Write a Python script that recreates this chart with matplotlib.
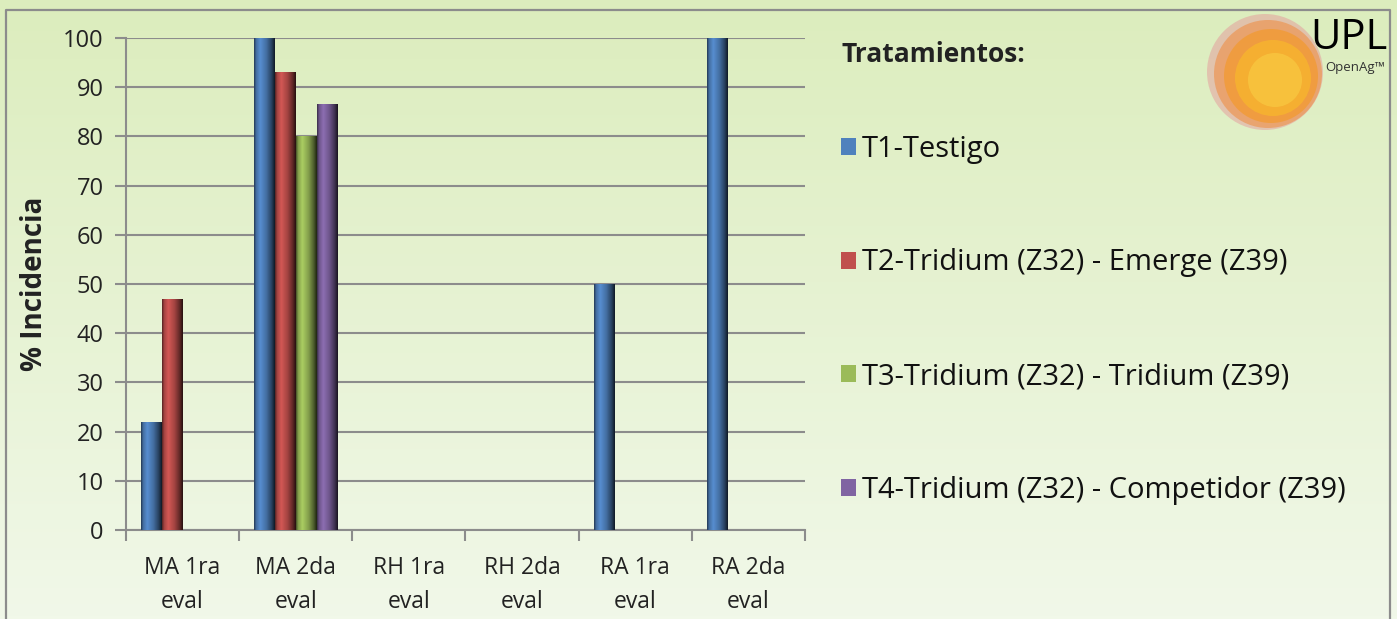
import numpy as np
import matplotlib.pyplot as plt
from matplotlib.colors import LinearSegmentedColormap, to_rgb
from matplotlib.patches import Circle

plt.rcParams['font.family'] = ['Open Sans', 'DejaVu Sans']

# data
categories = ['MA 1ra\neval', 'MA 2da\neval', 'RH 1ra\neval', 'RH 2da\neval', 'RA 1ra\neval', 'RA 2da\neval']
series = ['T1-Testigo', 'T2-Tridium (Z32) - Emerge (Z39)',
          'T3-Tridium (Z32) - Tridium (Z39)', 'T4-Tridium (Z32) - Competidor (Z39)']
t1 = [22, 100, 0, 0, 50, 100]
t2 = [47, 93, 0, 0, 0, 0]
t3 = [0, 80, 0, 0, 0, 0]
t4 = [0, 86.5, 0, 0, 0, 0]
colors = ['#4f81bd', '#c0504d', '#9bbb59', '#8064a2']

fig = plt.figure(figsize=(13.97, 6.19), dpi=100)

# background gradient + frame
bg = fig.add_axes([0, 0, 1, 1], zorder=-10)
top = np.array(to_rgb('#dcedbd'))
bot = np.array(to_rgb('#f1f8e9'))
t = np.linspace(0, 1, 200)[:, None, None]
grad = top * (1 - t) + bot * t
bg.imshow(grad, extent=[0, 1, 0, 1], aspect='auto', origin='upper')
bg.plot([6 / 1397, 6 / 1397, 1390 / 1397, 1390 / 1397], [0, 1 - 10 / 619, 1 - 10 / 619, 0],
        color='#8c8c8c', lw=1.6)
bg.set_xlim(0, 1)
bg.set_ylim(0, 1)
bg.axis('off')

ax = fig.add_axes([126 / 1397, 89 / 619, 679 / 1397, 492 / 619])
ax.patch.set_alpha(0)

x = np.arange(len(categories))
w = 0.184
values = [t1, t2, t3, t4]


def shade_cmap(c):
    c = np.array(to_rgb(c))
    return LinearSegmentedColormap.from_list('s', [(0, c * 0.45), (0.1, c * 0.85), (0.3, np.clip(c * 1.1, 0, 1)),
                                                    (0.6, c * 0.85), (0.85, c * 0.5), (1, c * 0.2)])


hgrad = np.linspace(0, 1, 100)[None, :]
for i, (vals, col) in enumerate(zip(values, colors)):
    bars = ax.bar(x + (i - 1.5) * w, vals, w, color=col, label=series[i], zorder=3)
    cm = shade_cmap(col)
    for b in bars:
        if b.get_height() <= 0:
            continue
        im = ax.imshow(hgrad, cmap=cm, aspect='auto', zorder=4,
                       extent=[b.get_x(), b.get_x() + b.get_width(), 0, b.get_height()])
        im.set_clip_path(b)

ax.set_xlim(-0.5, 5.5)
ax.set_ylim(0, 100)
ax.set_yticks(range(0, 101, 10))
ax.grid(axis='y', color='#8c8c8c', lw=1.5, zorder=0)
ax.set_xticks(x)
ax.set_xticklabels(categories, linespacing=1.55)
ax.set_xticks(np.arange(-0.5, 6, 1), minor=True)
ax.tick_params(axis='x', which='major', length=0, pad=19, labelsize=16.5, colors='#222222')
ax.tick_params(axis='x', which='minor', length=8, width=1.5, color='#8c8c8c')
ax.tick_params(axis='y', length=8, width=1.5, color='#8c8c8c', pad=8, labelsize=17,
               labelcolor='#222222')
for s in ['top', 'right']:
    ax.spines[s].set_visible(False)
for s in ['left', 'bottom']:
    ax.spines[s].set_color('#8c8c8c')
    ax.spines[s].set_linewidth(1.5)
ax.set_ylabel('% Incidencia', fontsize=20, fontweight='bold', color='#222222', labelpad=10)

leg = fig.legend(loc='upper left', bbox_to_anchor=(815 / 1397, 1 - 15 / 619), frameon=False,
                 fontsize=21, title='Tratamientos:', alignment='left',
                 title_fontproperties={'size': 19, 'weight': 'bold'},
                 labelspacing=2.9, handlelength=0.52, handleheight=0.52, handletextpad=0.2)
leg.get_title().set_color('#222222')
leg._legend_box.sep = 48
for txt in leg.get_texts():
    txt.set_color('#111111')

# logo
lg = fig.add_axes([1205 / 1397, 1 - 135 / 619, 185 / 1397, 125 / 619])
lg.set_xlim(0, 185)
lg.set_ylim(125, 0)
lg.axis('off')
for (cx, cy, r, c, a) in [(60, 62, 58, '#e8748a', 0.35), (63, 64, 54, '#f08a3c', 0.55),
                          (66, 66, 47, '#f39a2c', 0.7), (68, 68, 38, '#f7b52e', 0.8),
                          (70, 70, 27, '#f8c640', 0.8)]:
    lg.add_patch(Circle((cx, cy), r, color=c, alpha=a, lw=0))
lg.text(182, 28, 'UPL', fontsize=30, ha='right', va='center', color='black')
lg.text(180, 58, 'OpenAg™', fontsize=9.5, ha='right', va='center', color='#333333')

fig.savefig('out.png', dpi=100)
